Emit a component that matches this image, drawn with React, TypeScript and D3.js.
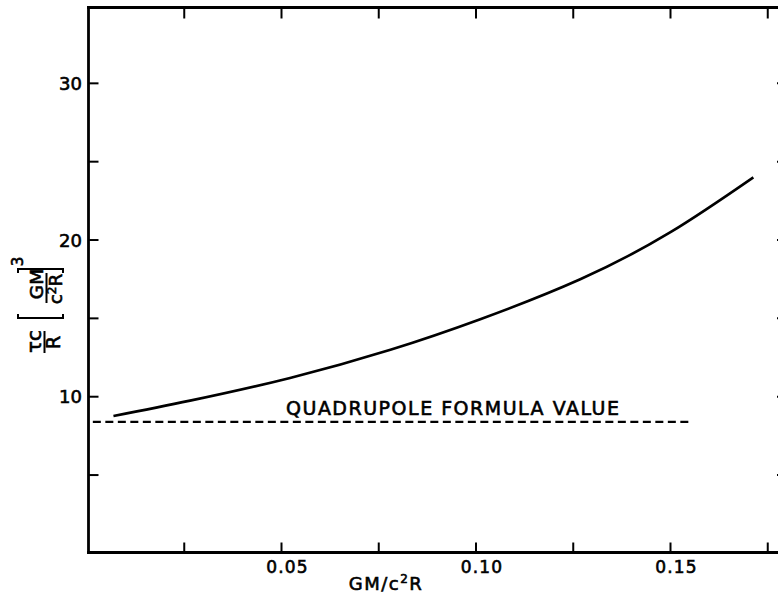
import React from "react";
import * as d3 from "d3";

// Curve: tau c / R (GM/c^2R)^3 vs GM/c^2R
const compactness = [0.0068, 0.0265, 0.0522, 0.078, 0.1011, 0.1268, 0.15, 0.1713];
const emissionTime = [8.77, 9.75, 11.2, 13.0, 14.95, 17.5, 20.5, 24.0];

// Quadrupole formula value (dashed)
const quadrupoleValue = 8.4;
const quadrupoleRange = [0.0015, 0.155];

const xTicks = [0.025, 0.05, 0.075, 0.1, 0.125, 0.15, 0.175];
const xTickLabels = ["0.05", "0.10", "0.15"];
const xLabelValues = [0.05, 0.1, 0.15];
const yTicks = [5, 10, 15, 20, 25, 30];
const yLabelValues = [10, 20, 30];
const yTickLabels = ["10", "20", "30"];

const W = 778;
const H = 593;
const FONT = "'DejaVu Sans', sans-serif";

export default function App() {
  const x = d3.scaleLinear().domain([0, 0.2]).range([87, 865]);
  const y = d3.scaleLinear().domain([0, 35]).range([553.4, 5.0]);

  const left = 88.5;
  const right = 787;
  const top = 7.5;
  const bottom = 552.5;

  const pts: [number, number][] = compactness.map((c, i) => [c, emissionTime[i]]);
  const line = d3
    .line<[number, number]>()
    .x((d) => x(d[0]))
    .y((d) => y(d[1]))
    .curve(d3.curveNatural);

  const textStroke = { stroke: "#000", strokeWidth: 0.6 };

  return (
    <svg
      width={W}
      height={H}
      style={{ position: "absolute", left: 0, top: 0, background: "#fff" }}
      fontFamily={FONT}
    >
      <rect x={0} y={0} width={W} height={H} fill="#fff" />
      {/* frame */}
      <g stroke="#000" strokeWidth={2.8} fill="none" strokeLinecap="square">
        <line x1={left} y1={top} x2={left} y2={bottom} />
        <line x1={left} y1={bottom} x2={right} y2={bottom} />
        <line x1={left} y1={top} x2={right} y2={top} />
        <line x1={right} y1={top} x2={right} y2={bottom} />
      </g>
      {/* ticks */}
      <g stroke="#000" strokeWidth={2}>
        {xTicks.map((t) => (
          <g key={"xt" + t}>
            <line x1={x(t)} x2={x(t)} y1={bottom} y2={bottom - 10} />
            <line x1={x(t)} x2={x(t)} y1={top} y2={top + 11} />
          </g>
        ))}
        {yTicks.map((t) => (
          <g key={"yt" + t}>
            <line x1={left} x2={left + 10} y1={y(t)} y2={y(t)} />
            <line x1={right} x2={right - 10} y1={y(t)} y2={y(t)} />
          </g>
        ))}
      </g>
      {/* tick labels */}
      <g fontSize={17} fill="#000" letterSpacing={1.2} {...textStroke}>
        {xLabelValues.map((v, i) => (
          <text key={"xl" + v} x={x(v) + 6} y={573} textAnchor="middle">
            {xTickLabels[i]}
          </text>
        ))}
      </g>
      <g fontSize={18} fill="#000" {...textStroke}>
        {yLabelValues.map((v, i) => (
          <text key={"yl" + v} x={82} y={y(v) + 6.5} textAnchor="end">
            {yTickLabels[i]}
          </text>
        ))}
      </g>
      {/* x axis title */}
      <text x={386} y={589.5} fontSize={18} textAnchor="middle" fill="#000" letterSpacing={1.5} {...textStroke}>
        GM/c
        <tspan fontSize={12} dy={-7}>2</tspan>
        <tspan dy={7}>R</tspan>
      </text>
      {/* y axis title, rotated */}
      <g transform="rotate(-90)" fill="#000" {...textStroke}>
        <text x={-341.5} y={41} fontSize={20} textAnchor="middle">τc</text>
        <text x={-342.5} y={60} fontSize={19} textAnchor="middle">R</text>
        <line x1={-353} x2={-331} y1={44.5} y2={44.5} stroke="#000" strokeWidth={2} />
        <text x={-284} y={43} fontSize={18.5} textAnchor="middle">GM</text>
        <text x={-289} y={62} fontSize={18.5} textAnchor="middle">
          c<tspan fontSize={12} dy={-6}>2</tspan>
          <tspan dy={6}>R</tspan>
        </text>
        <line x1={-303} x2={-273} y1={46.5} y2={46.5} stroke="#000" strokeWidth={2} />
        <path d="M -314 18 L -318 18 L -318 63 L -314 63" fill="none" stroke="#000" strokeWidth={2} />
        <path d="M -273 18 L -269 18 L -269 63 L -273 63" fill="none" stroke="#000" strokeWidth={2} />
        <text x={-261.5} y={23} fontSize={15} textAnchor="middle">3</text>
      </g>
      {/* curve */}
      <path d={line(pts) || ""} fill="none" stroke="#000" strokeWidth={2.6} />
      {/* quadrupole dashed line */}
      <line
        x1={x(quadrupoleRange[0])}
        x2={x(quadrupoleRange[1])}
        y1={y(quadrupoleValue)}
        y2={y(quadrupoleValue)}
        stroke="#000"
        strokeWidth={2.2}
        strokeDasharray="8,4.5"
      />
      <text x={286} y={415} fontSize={19} fill="#000" textLength={333} lengthAdjust="spacing" {...textStroke}>
        QUADRUPOLE FORMULA VALUE
      </text>
    </svg>
  );
}
